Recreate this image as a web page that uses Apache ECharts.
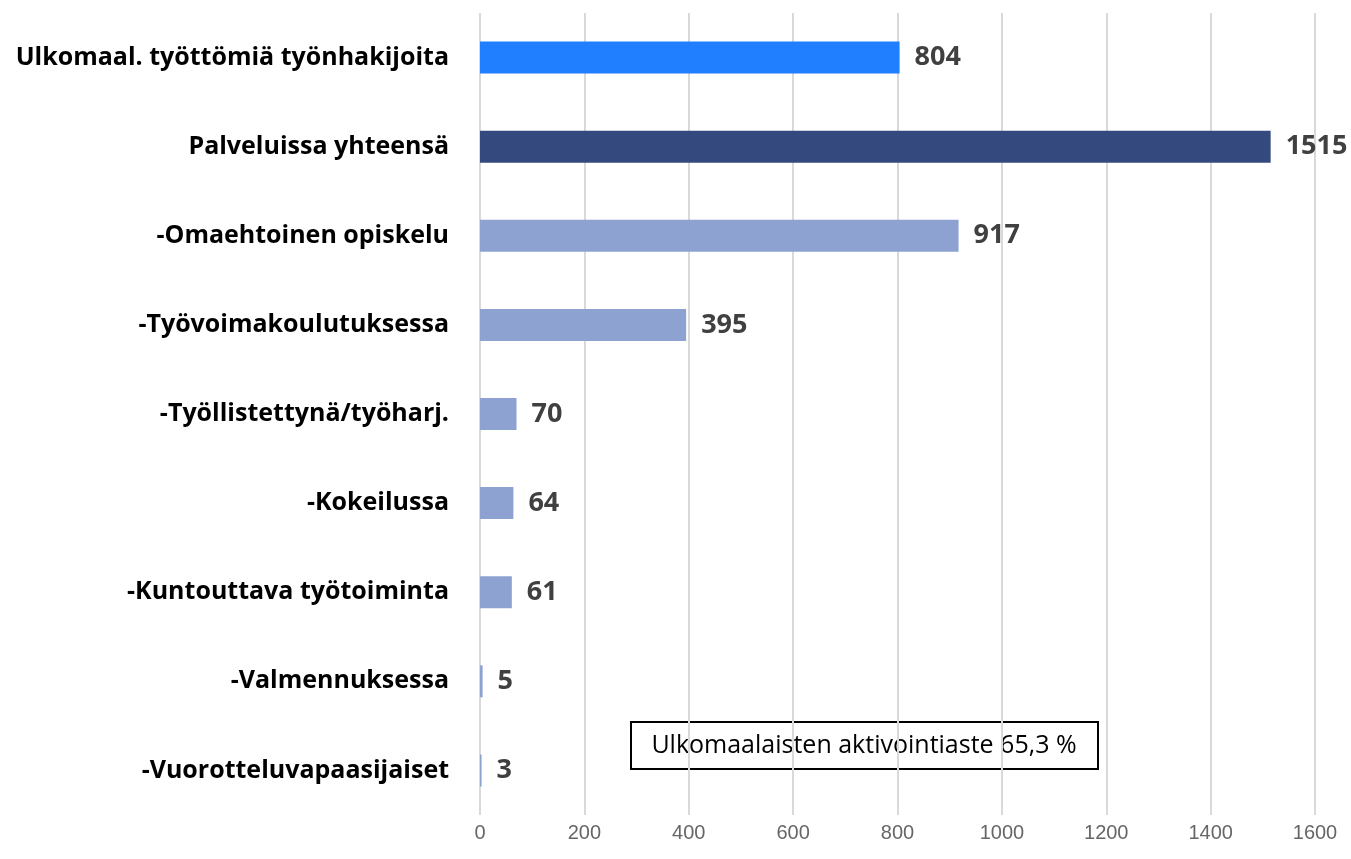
<!DOCTYPE html>
<html>
<head>
<meta charset="utf-8">
<script src="https://cdn.jsdelivr.net/npm/echarts@6/dist/echarts.min.js"></script>
<style>
  html, body { margin: 0; padding: 0; background: #fff; }
  #chart { width: 1351px; height: 859px; }
</style>
</head>
<body>
<div id="chart"></div>
<script>
const categories = [
  'Ulkomaal. työttömiä työnhakijoita',
  'Palveluissa yhteensä',
  '-Omaehtoinen opiskelu',
  '-Työvoimakoulutuksessa',
  '-Työllistettynä/työharj.',
  '-Kokeilussa',
  '-Kuntouttava työtoiminta',
  '-Valmennuksessa',
  '-Vuorotteluvapaasijaiset'
];
const values = [804, 1515, 917, 395, 70, 64, 61, 5, 3];
const barColors = ['#1f7fff', '#344a7e', '#8ea2d2', '#8ea2d2', '#8ea2d2', '#8ea2d2', '#8ea2d2', '#8ea2d2', '#8ea2d2'];
const note = 'Ulkomaalaisten aktivointiaste 65,3 %';

const chart = echarts.init(document.getElementById('chart'), null, { renderer: 'canvas' });
chart.setOption({
  animation: false,
  grid: { left: 480, right: 36, top: 13, bottom: 44, containLabel: false },
  xAxis: {
    type: 'value',
    min: 0, max: 1600, interval: 200,
    axisLine: { show: false },
    axisTick: { show: false },
    splitLine: { lineStyle: { color: '#d9d9d9', width: 2 } },
    axisLabel: {
      color: '#666', fontSize: 20, fontFamily: 'Liberation Sans', margin: 8,
      formatter: v => String(v)
    }
  },
  yAxis: {
    type: 'category',
    data: categories,
    inverse: true,
    axisLine: { show: false },
    axisTick: { show: false },
    axisLabel: { color: '#000', fontSize: 25, fontWeight: 'bold', fontFamily: 'Open Sans', margin: 31 }
  },
  series: [{
    type: 'bar',
    barWidth: 32,
    data: values.map((v, i) => ({ value: v, itemStyle: { color: barColors[i] } })),
    label: {
      show: true,
      position: 'right',
      distance: 15,
      color: '#404040',
      fontSize: 27,
      fontWeight: 'bold',
      fontFamily: 'Open Sans'
    }
  }],
  graphic: [{
    type: 'group',
    left: 630, top: 721,
    children: [
      { type: 'rect', shape: { x: 0, y: 0, width: 467, height: 47 },
        style: { fill: '#fff', stroke: '#000', lineWidth: 2 } },
      { type: 'text', x: 233, y: 24,
        style: { text: note, fill: '#000', font: '25px "Open Sans"', textAlign: 'center', textVerticalAlign: 'middle' } }
    ]
  }]
});
</script>
</body>
</html>
